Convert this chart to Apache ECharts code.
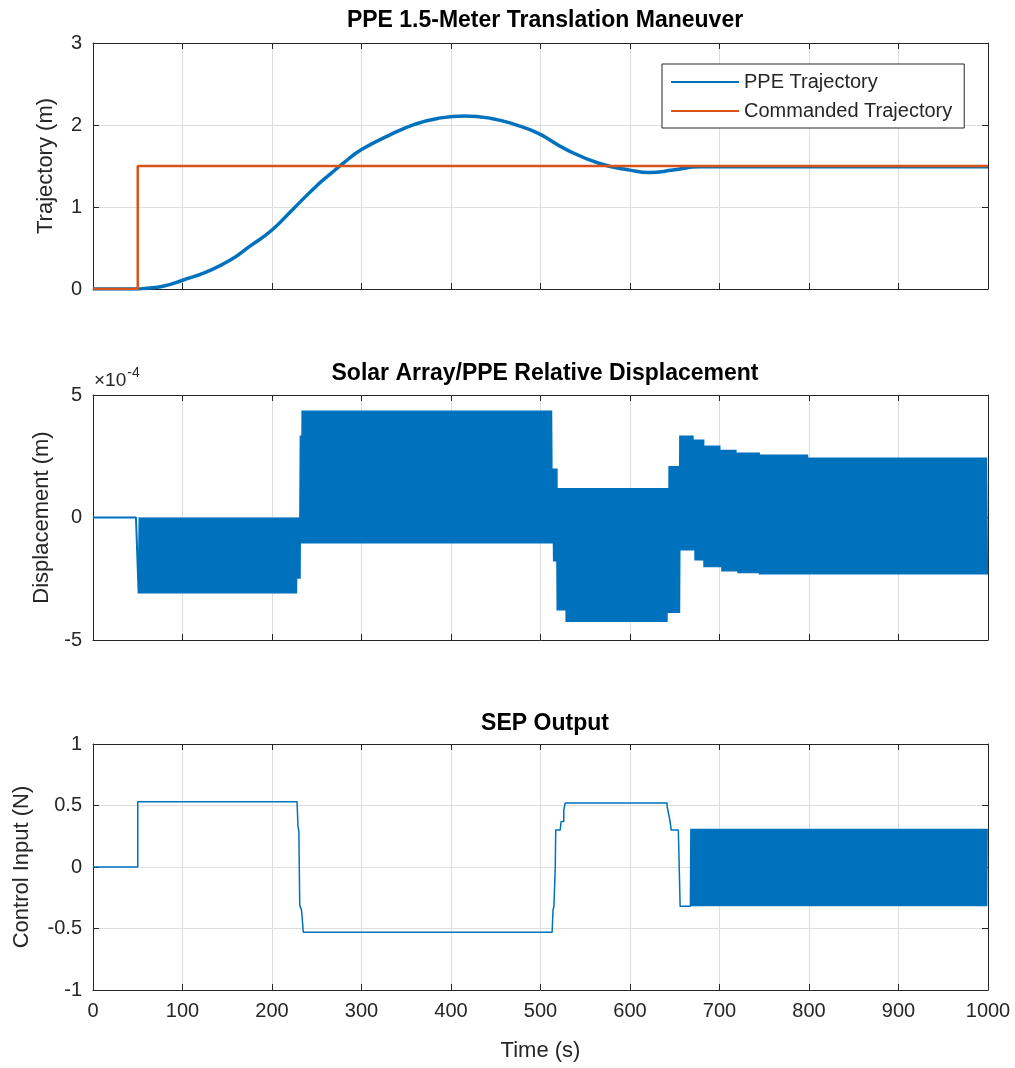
<!DOCTYPE html>
<html>
<head>
<meta charset="utf-8">
<title>PPE 1.5-Meter Translation Maneuver</title>
<script src="https://cdn.jsdelivr.net/npm/echarts@6/dist/echarts.min.js"></script>
<style>
  html, body { margin: 0; padding: 0; background: #fff; }
  #chart { width: 1015px; height: 1068px; }
</style>
</head>
<body>
<div id="chart"></div>
<script>
// ---- data ----
// top: PPE position vs commanded step
const trajTime = [0, 50, 60, 77, 101, 127, 153, 175, 200, 224, 250, 265, 278, 300, 332, 360, 385, 415, 445, 470, 497, 529, 566, 600, 622, 648, 678, 700, 1000]
const trajPos = [0, 0, 0.01, 0.03, 0.11, 0.21, 0.35, 0.52, 0.72, 0.98, 1.26, 1.40, 1.52, 1.70, 1.88, 2.01, 2.08, 2.11, 2.08, 2.01, 1.90, 1.70, 1.53, 1.45, 1.42, 1.45, 1.49, 1.49, 1.49]
const cmdTime = [0, 50, 50, 1000]
const cmdPos = [0, 0, 1.5, 1.5]

// middle: relative displacement (units of 1e-4 m), upper/lower swing held from each knot time
const dispKnotTime = [0, 50, 228, 232, 234, 514, 519, 529, 643, 656, 672, 683, 702, 720, 745, 800]
const dispUpper = [0, 0, 0, 3.35, 4.37, 2.0, 1.2, 1.2, 2.1, 3.35, 3.18, 2.94, 2.77, 2.65, 2.57, 2.45]
const dispLower = [0, -3.1, -2.5, -1.06, -1.06, -1.8, -3.8, -4.27, -3.9, -1.35, -1.75, -2.03, -2.2, -2.28, -2.33, -2.33]
const dispEnd = 1000
const dispSwingStep = 1 // s between successive swing extremes

// bottom: SEP thrust command
const sepTime = [0, 50, 50, 228, 229, 230, 231, 233, 235, 513, 514, 515, 516.5, 517, 522, 523, 526, 527.5, 639, 641.5, 643.5, 645, 646, 654, 655, 656, 667.5]
const sepForce = [0, 0, 0.53, 0.53, 0.33, 0.29, -0.31, -0.35, -0.53, -0.53, -0.35, -0.32, 0, 0.30, 0.30, 0.37, 0.46, 0.52, 0.52, 0.49, 0.42, 0.36, 0.30, 0.30, 0, -0.32, -0.32]
const sepChatterStart = 668
const sepChatterEnd = 999
const sepChatterHigh = 0.31
const sepChatterLow = -0.32
const sepChatterStep = 0.5

const xTicks = { min: 0, max: 1000, interval: 100 }

// ---- build point lists ----
const zip = (xs, ys) => xs.map((x, i) => [x, ys[i]])

const dispPoints = []
let flip = false
for (let k = 0; k < dispKnotTime.length; k++) {
  const t0 = dispKnotTime[k]
  const t1 = k + 1 < dispKnotTime.length ? dispKnotTime[k + 1] : dispEnd
  for (let t = t0; t < t1; t += dispSwingStep) {
    dispPoints.push([t, flip ? dispLower[k] : dispUpper[k]])
    flip = !flip
  }
}

const sepPoints = zip(sepTime, sepForce)
let hi = true
for (let t = sepChatterStart; t <= sepChatterEnd; t += sepChatterStep) {
  sepPoints.push([t, hi ? sepChatterHigh : sepChatterLow])
  hi = !hi
}

// ---- chart ----
const ink = '#262626'
const font = 'Liberation Sans, Arial, Helvetica, sans-serif'
const blue = '#0072BD'
const orange = '#D95319'

const grids = [
  { left: 93, width: 895, top: 43, height: 246 },
  { left: 93, width: 895, top: 395, height: 245 },
  { left: 93, width: 895, top: 744, height: 246 }
]

function xPair(gi, showLabels) {
  const base = {
    type: 'value', gridIndex: gi, ...xTicks,
    axisLine: { show: true, onZero: false, lineStyle: { color: ink, width: 1 } },
    axisTick: { show: true, inside: true, length: 6, lineStyle: { color: ink } }
  }
  return [
    {
      ...base, position: 'bottom',
      axisLabel: { show: showLabels, color: ink, fontSize: 20, fontFamily: font, margin: 11, formatter: v => String(v) },
      splitLine: { show: true, lineStyle: { color: '#dedede' } },
      name: showLabels ? 'Time (s)' : '',
      nameLocation: 'middle', nameGap: 50,
      nameTextStyle: { color: ink, fontSize: 22, fontFamily: font }
    },
    { ...base, position: 'top', axisLabel: { show: false }, splitLine: { show: false } }
  ]
}

function yPair(gi, min, max, interval, name, nameGap) {
  const base = {
    type: 'value', gridIndex: gi, min, max, interval,
    axisLine: { show: true, onZero: false, lineStyle: { color: ink, width: 1 } },
    axisTick: { show: true, inside: true, length: 6, lineStyle: { color: ink } }
  }
  return [
    {
      ...base, position: 'left',
      axisLabel: { color: ink, fontSize: 20, fontFamily: font, margin: 11 },
      splitLine: { show: true, lineStyle: { color: '#dedede' } },
      name, nameLocation: 'middle', nameGap,
      nameTextStyle: { color: ink, fontSize: 22, fontFamily: font }
    },
    { ...base, position: 'right', axisLabel: { show: false }, splitLine: { show: false } }
  ]
}

const titleStyle = { color: '#000', fontSize: 23, fontWeight: 'bold', fontFamily: font }

const option = {
  animation: false,
  backgroundColor: '#fff',
  title: [
    { text: 'PPE 1.5-Meter Translation Maneuver', left: 540, top: 4, textAlign: 'center', textStyle: titleStyle },
    { text: 'Solar Array/PPE Relative Displacement', left: 540, top: 357, textAlign: 'center', textStyle: titleStyle },
    { text: 'SEP Output', left: 540, top: 707, textAlign: 'center', textStyle: titleStyle }
  ],
  graphic: [
    {
      type: 'text', left: 94, top: 366,
      style: {
        text: '{a|×10}{b|-4}',
        rich: {
          a: { fontSize: 19, fontFamily: font, fill: ink, padding: [8, 0, 0, 0] },
          b: { fontSize: 14, fontFamily: font, fill: ink, padding: [0, 0, 7, 1] }
        }
      }
    }
  ],
  legend: {
    orient: 'vertical',
    left: 662, top: 64,
    padding: [8, 12, 7, 8],
    itemGap: 9,
    itemWidth: 68, itemHeight: 14,
    borderColor: ink, borderWidth: 1,
    backgroundColor: '#fff',
    itemStyle: { opacity: 0 },
    textStyle: { color: ink, fontSize: 20, fontFamily: font },
    data: ['PPE Trajectory', 'Commanded Trajectory']
  },
  grid: grids,
  xAxis: [...xPair(0, false), ...xPair(1, false), ...xPair(2, true)],
  yAxis: [
    ...yPair(0, 0, 3, 1, 'Trajectory (m)', 36),
    ...yPair(1, -5, 5, 5, 'Displacement (m)', 36),
    ...yPair(2, -1, 1, 0.5, 'Control Input (N)', 60)
  ],
  series: [
    {
      name: 'PPE Trajectory', type: 'line', xAxisIndex: 0, yAxisIndex: 0,
      data: zip(trajTime, trajPos), smooth: 0.5, symbol: 'none',
      lineStyle: { color: blue, width: 3.5 }, itemStyle: { color: blue }, z: 3
    },
    {
      name: 'Commanded Trajectory', type: 'line', xAxisIndex: 0, yAxisIndex: 0,
      data: zip(cmdTime, cmdPos), symbol: 'none',
      lineStyle: { color: orange, width: 2.5 }, itemStyle: { color: orange }, z: 4
    },
    {
      name: 'Displacement', type: 'line', xAxisIndex: 2, yAxisIndex: 2,
      data: dispPoints, symbol: 'none',
      lineStyle: { color: blue, width: 2 }, itemStyle: { color: blue }
    },
    {
      name: 'SEP Output', type: 'line', xAxisIndex: 4, yAxisIndex: 4,
      data: sepPoints, symbol: 'none', step: 'end',
      lineStyle: { color: blue, width: 1.5 }, itemStyle: { color: blue }
    }
  ]
}

const chart = echarts.init(document.getElementById('chart'), null, { renderer: 'canvas' })
chart.setOption(option)
</script>
</body>
</html>
